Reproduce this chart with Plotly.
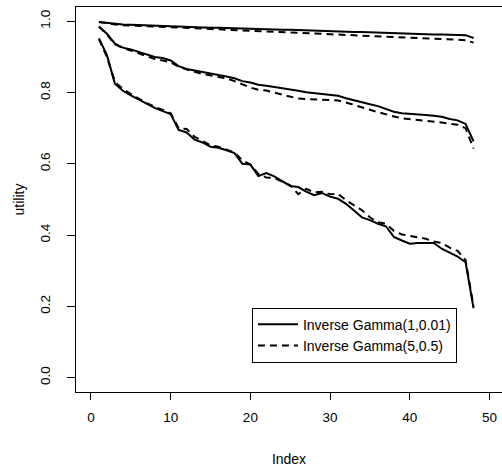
import plotly.graph_objects as go

index = list(range(1, 49))

top_solid = [0.998, 0.995, 0.992, 0.991, 0.990, 0.989, 0.988, 0.988, 0.987, 0.986,
             0.985, 0.985, 0.984, 0.983, 0.982, 0.982, 0.981, 0.980, 0.980, 0.979,
             0.978, 0.978, 0.977, 0.976, 0.976, 0.975, 0.974, 0.974, 0.973, 0.972,
             0.972, 0.971, 0.970, 0.970, 0.969, 0.968, 0.967, 0.967, 0.966, 0.965,
             0.965, 0.964, 0.963, 0.963, 0.962, 0.962, 0.961, 0.953]
top_dashed = [0.998, 0.994, 0.991, 0.989, 0.988, 0.987, 0.986, 0.985, 0.984, 0.983,
              0.982, 0.981, 0.980, 0.979, 0.978, 0.977, 0.976, 0.975, 0.974, 0.973,
              0.972, 0.971, 0.970, 0.969, 0.968, 0.967, 0.966, 0.965, 0.964, 0.963,
              0.962, 0.962, 0.961, 0.960, 0.959, 0.958, 0.957, 0.956, 0.955, 0.954,
              0.953, 0.952, 0.951, 0.950, 0.949, 0.948, 0.947, 0.940]

mid_solid = [0.985, 0.965, 0.937, 0.926, 0.921, 0.914, 0.906, 0.900, 0.897, 0.890,
             0.874, 0.866, 0.862, 0.858, 0.855, 0.850, 0.845, 0.840, 0.832, 0.828,
             0.822, 0.819, 0.816, 0.811, 0.808, 0.805, 0.801, 0.798, 0.796, 0.794,
             0.791, 0.784, 0.778, 0.771, 0.767, 0.762, 0.754, 0.746, 0.742, 0.741,
             0.739, 0.737, 0.735, 0.732, 0.726, 0.722, 0.712, 0.663]
mid_dashed = [0.985, 0.963, 0.935, 0.925, 0.918, 0.910, 0.900, 0.894, 0.890, 0.885,
              0.872, 0.864, 0.858, 0.852, 0.848, 0.845, 0.840, 0.832, 0.822, 0.814,
              0.808, 0.806, 0.800, 0.795, 0.790, 0.783, 0.782, 0.781, 0.780, 0.780,
              0.778, 0.772, 0.766, 0.760, 0.752, 0.745, 0.738, 0.733, 0.728, 0.726,
              0.724, 0.722, 0.720, 0.716, 0.712, 0.710, 0.700, 0.643]

low_solid = [0.952, 0.905, 0.825, 0.805, 0.792, 0.780, 0.768, 0.757, 0.748, 0.740,
             0.695, 0.688, 0.668, 0.660, 0.648, 0.645, 0.638, 0.630, 0.600, 0.598,
             0.566, 0.574, 0.565, 0.552, 0.538, 0.535, 0.522, 0.512, 0.518, 0.508,
             0.502, 0.488, 0.470, 0.450, 0.442, 0.432, 0.425, 0.395, 0.385, 0.376,
             0.378, 0.378, 0.378, 0.362, 0.350, 0.340, 0.324, 0.195]
low_dashed = [0.950, 0.900, 0.830, 0.810, 0.796, 0.782, 0.770, 0.760, 0.750, 0.742,
              0.700, 0.698, 0.676, 0.664, 0.652, 0.648, 0.640, 0.632, 0.610, 0.598,
              0.572, 0.562, 0.560, 0.550, 0.540, 0.515, 0.530, 0.520, 0.522, 0.515,
              0.516, 0.498, 0.484, 0.470, 0.450, 0.436, 0.432, 0.412, 0.402, 0.398,
              0.392, 0.390, 0.382, 0.378, 0.365, 0.356, 0.330, 0.200]

legend_names = ["Inverse Gamma(1,0.01)", "Inverse Gamma(5,0.5)"]
x_ticks = [0, 10, 20, 30, 40, 50]
y_ticks = [0.0, 0.2, 0.4, 0.6, 0.8, 1.0]

FONT = "Liberation Sans, Arial, Helvetica, sans-serif"
fig = go.Figure()

solid_sets = [top_solid, mid_solid, low_solid]
dashed_sets = [top_dashed, mid_dashed, low_dashed]

for k, ys in enumerate(dashed_sets):
    fig.add_trace(go.Scatter(x=index, y=ys, mode="lines", name=legend_names[1],
                             legendgroup="d", showlegend=(k == 0),
                             line=dict(color="black", width=2, dash="7px,5px")))
for k, ys in enumerate(solid_sets):
    fig.add_trace(go.Scatter(x=index, y=ys, mode="lines", name=legend_names[0],
                             legendgroup="s", showlegend=(k == 0),
                             line=dict(color="black", width=2)))

fig.update_layout(
    width=502, height=467,
    margin=dict(l=76, r=0, t=7, b=75),
    paper_bgcolor="white", plot_bgcolor="white",
    font=dict(family=FONT, size=14, color="black"),
    showlegend=True,
    legend=dict(x=0.413, y=0.219, xanchor="left", yanchor="top",
                bordercolor="black", borderwidth=1, bgcolor="white",
                font=dict(size=14), traceorder="reversed", itemwidth=40),
    xaxis=dict(range=[-1.88, 51.57], tickvals=x_ticks, ticktext=[str(v) for v in x_ticks],
               showgrid=False, zeroline=False, showline=True, linecolor="black",
               linewidth=1, mirror=True, ticks="outside", ticklen=7, tickcolor="black",
               ticklabelstandoff=6, tickfont=dict(size=13.5),
               title=dict(text="Index", standoff=30, font=dict(size=14))),
    yaxis=dict(range=[-0.04, 1.04], tickvals=y_ticks, ticktext=[f"{v:.1f}" for v in y_ticks],
               showgrid=False, zeroline=False, showline=True, linecolor="black",
               linewidth=1, mirror=False, ticks="outside", ticklen=8, tickcolor="black",
               tickangle=-90, ticklabelstandoff=12, tickfont=dict(size=13.5),
               title=dict(text="utility", standoff=9, font=dict(size=14))),
)

fig.write_html("out.html")
